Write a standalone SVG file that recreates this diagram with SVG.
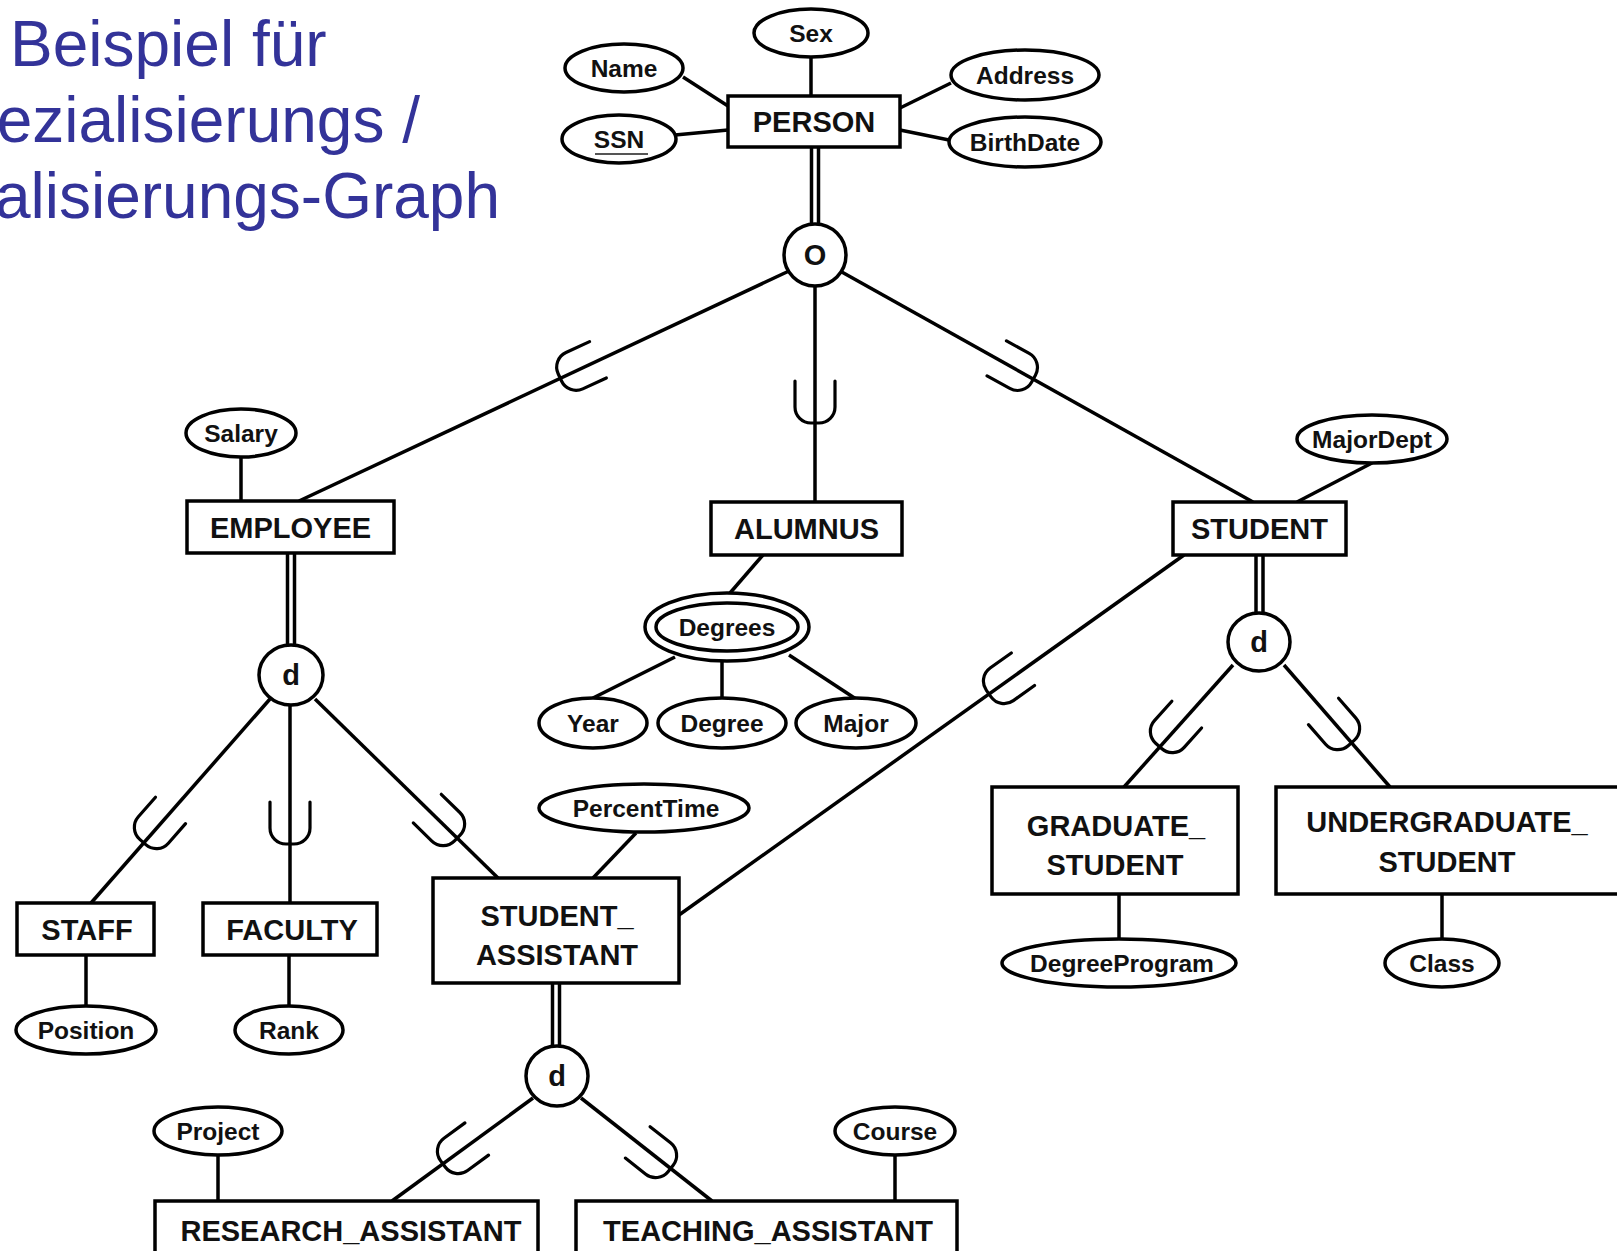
<svg xmlns="http://www.w3.org/2000/svg" width="1617" height="1251" viewBox="0 0 1617 1251">
<defs>
<style>
.bg{fill:#ffffff}
.title{font-family:"Liberation Sans",Arial,sans-serif;font-size:64px;fill:#333399}
.ent rect{fill:#ffffff;stroke:#000;stroke-width:3.5}
.ent text{font-family:"Liberation Sans",Arial,sans-serif;font-weight:bold;font-size:29px;fill:#111;text-anchor:middle}
.att ellipse{fill:#ffffff;stroke:#000;stroke-width:3.5}
.att text{font-family:"Liberation Sans",Arial,sans-serif;font-weight:bold;font-size:24.5px;fill:#111;text-anchor:middle}
.circ ellipse{fill:#ffffff;stroke:#000;stroke-width:3.5}
.circ text{font-family:"Liberation Sans",Arial,sans-serif;font-weight:bold;font-size:29px;fill:#111;text-anchor:middle}
.conn line{stroke:#000;stroke-width:3.5;fill:none}
.sub{stroke:#000;stroke-width:3.2;fill:none;stroke-linecap:round}
</style>
<path id="subset" d="M-20,-22 V4 A16,16 0 0 0 -4,20 H4 A16,16 0 0 0 20,4 V-22"/>
</defs>
<rect class="bg" x="0" y="0" width="1617" height="1251"/>

<g id="title">
<text class="title" x="10" y="66">Beispiel für</text>
<text class="title" x="420" y="142" text-anchor="end">ezialisierungs /</text>
<text class="title" x="500" y="218" text-anchor="end">alisierungs-Graph</text>
</g>

<g id="connectors" class="conn">
<line x1="811" y1="57" x2="811" y2="96"/>
<line x1="683" y1="77" x2="728" y2="106"/>
<line x1="675" y1="135" x2="728" y2="130"/>
<line x1="951" y1="83" x2="900" y2="108"/>
<line x1="949" y1="140" x2="900" y2="130"/>
<line x1="811.5" y1="147" x2="811.5" y2="226"/>
<line x1="818.5" y1="147" x2="818.5" y2="226"/>
<line x1="789" y1="271" x2="299" y2="501"/>
<line x1="815" y1="286" x2="815" y2="502"/>
<line x1="840" y1="271" x2="1253" y2="502"/>
<line x1="241" y1="457" x2="241" y2="501"/>
<line x1="287.5" y1="553" x2="287.5" y2="647"/>
<line x1="294.5" y1="553" x2="294.5" y2="647"/>
<line x1="270" y1="699" x2="91" y2="903"/>
<line x1="290" y1="705" x2="290" y2="903"/>
<line x1="315" y1="699" x2="498" y2="878"/>
<line x1="86" y1="955" x2="86" y2="1006"/>
<line x1="289" y1="955" x2="289" y2="1006"/>
<line x1="763" y1="555" x2="730" y2="593"/>
<line x1="675" y1="657" x2="593" y2="698"/>
<line x1="722" y1="661" x2="722" y2="698"/>
<line x1="789" y1="655" x2="856" y2="699"/>
<line x1="1372" y1="463" x2="1297" y2="502"/>
<line x1="1256" y1="555" x2="1256" y2="615"/>
<line x1="1263" y1="555" x2="1263" y2="615"/>
<line x1="1233" y1="665" x2="1124" y2="787"/>
<line x1="1284" y1="665" x2="1390" y2="787"/>
<line x1="1184" y1="555" x2="679" y2="915"/>
<line x1="1119" y1="894" x2="1119" y2="939"/>
<line x1="1442" y1="894" x2="1442" y2="939"/>
<line x1="636" y1="833" x2="593" y2="878"/>
<line x1="552.5" y1="983" x2="552.5" y2="1049"/>
<line x1="559.5" y1="983" x2="559.5" y2="1049"/>
<line x1="533" y1="1098" x2="392" y2="1201"/>
<line x1="581" y1="1098" x2="712" y2="1201"/>
<line x1="218" y1="1155" x2="218" y2="1201"/>
<line x1="895" y1="1155" x2="895" y2="1201"/>
<use href="#subset" class="sub" transform="translate(578,369) rotate(65.2)"/>
<use href="#subset" class="sub" transform="translate(815,403)"/>
<use href="#subset" class="sub" transform="translate(1016,369) rotate(-61)"/>
<use href="#subset" class="sub" transform="translate(156,827) rotate(41.3)"/>
<use href="#subset" class="sub" transform="translate(290,824)"/>
<use href="#subset" class="sub" transform="translate(443,824) rotate(-45.6)"/>
<use href="#subset" class="sub" transform="translate(1172,731) rotate(42)"/>
<use href="#subset" class="sub" transform="translate(1338,728) rotate(-41.2)"/>
<use href="#subset" class="sub" transform="translate(1005,682) rotate(54.5)"/>
<use href="#subset" class="sub" transform="translate(459,1152) rotate(53.8)"/>
<use href="#subset" class="sub" transform="translate(655,1156) rotate(-51.8)"/>
</g>

<g id="o-person" class="circ"><ellipse cx="815" cy="255" rx="31" ry="31"/><text x="815" y="265">O</text></g>
<g id="d-employee" class="circ"><ellipse cx="291" cy="675" rx="32" ry="30"/><text x="291" y="685">d</text></g>
<g id="d-student" class="circ"><ellipse cx="1259" cy="642" rx="31" ry="29"/><text x="1259" y="652">d</text></g>
<g id="d-studentassistant" class="circ"><ellipse cx="557" cy="1076" rx="31" ry="30"/><text x="557" y="1086">d</text></g>

<g id="person" class="ent"><rect x="728" y="96" width="172" height="51"/><text x="814" y="132">PERSON</text></g>
<g id="employee" class="ent"><rect x="187" y="501" width="207" height="52"/><text x="290.5" y="537.5">EMPLOYEE</text></g>
<g id="alumnus" class="ent"><rect x="711" y="502" width="191" height="53"/><text x="806.5" y="539">ALUMNUS</text></g>
<g id="student" class="ent"><rect x="1173" y="502" width="173" height="53"/><text x="1259.5" y="539">STUDENT</text></g>
<g id="staff" class="ent"><rect x="17" y="903" width="137" height="52"/><text x="87" y="939.5">STAFF</text></g>
<g id="faculty" class="ent"><rect x="203" y="903" width="174" height="52"/><text x="292" y="939.5">FACULTY</text></g>
<g id="student_assistant" class="ent"><rect x="433" y="878" width="246" height="105"/><text x="557" y="925.5">STUDENT_</text><text x="557" y="964.5">ASSISTANT</text></g>
<g id="graduate_student" class="ent"><rect x="992" y="787" width="246" height="107"/><text x="1116" y="835.5">GRADUATE_</text><text x="1115" y="874.5">STUDENT</text></g>
<g id="undergraduate_student" class="ent"><rect x="1276" y="787" width="364" height="107"/><text x="1447" y="832">UNDERGRADUATE_</text><text x="1447" y="872">STUDENT</text></g>
<g id="research_assistant" class="ent"><rect x="155" y="1201" width="383" height="70"/><text x="351" y="1240.5">RESEARCH_ASSISTANT</text></g>
<g id="teaching_assistant" class="ent"><rect x="576" y="1201" width="381" height="70"/><text x="768" y="1240.5">TEACHING_ASSISTANT</text></g>

<g id="att-sex" class="att"><ellipse cx="811" cy="33" rx="57" ry="24"/><text x="811" y="42">Sex</text></g>
<g id="att-name" class="att"><ellipse cx="624" cy="68" rx="59" ry="24"/><text x="624" y="77">Name</text></g>
<g id="att-ssn" class="att"><ellipse cx="619" cy="139" rx="57" ry="24"/><text x="619" y="148">SSN</text><line x1="595" y1="154" x2="648" y2="154" stroke="#555" stroke-width="2"/></g>
<g id="att-address" class="att"><ellipse cx="1025" cy="75" rx="74" ry="25"/><text x="1025" y="84">Address</text></g>
<g id="att-birthdate" class="att"><ellipse cx="1025" cy="142" rx="76" ry="25"/><text x="1025" y="151">BirthDate</text></g>
<g id="att-salary" class="att"><ellipse cx="241" cy="433" rx="55" ry="24"/><text x="241" y="442">Salary</text></g>
<g id="att-majordept" class="att"><ellipse cx="1372" cy="439" rx="75" ry="24"/><text x="1372" y="448">MajorDept</text></g>
<g id="att-degrees" class="att"><ellipse cx="727" cy="627" rx="82" ry="34"/><ellipse cx="727" cy="627" rx="71" ry="24"/><text x="727" y="636">Degrees</text></g>
<g id="att-year" class="att"><ellipse cx="593" cy="723" rx="54" ry="25"/><text x="593" y="732">Year</text></g>
<g id="att-degree" class="att"><ellipse cx="722" cy="723" rx="64" ry="25"/><text x="722" y="732">Degree</text></g>
<g id="att-major" class="att"><ellipse cx="856" cy="723" rx="60" ry="25"/><text x="856" y="732">Major</text></g>
<g id="att-percenttime" class="att"><ellipse cx="644" cy="808" rx="105" ry="24"/><text x="646" y="817">PercentTime</text></g>
<g id="att-degreeprogram" class="att"><ellipse cx="1119" cy="963" rx="117" ry="24"/><text x="1122" y="972">DegreeProgram</text></g>
<g id="att-class" class="att"><ellipse cx="1442" cy="963" rx="57" ry="24"/><text x="1442" y="972">Class</text></g>
<g id="att-position" class="att"><ellipse cx="86" cy="1030" rx="70" ry="24"/><text x="86" y="1039">Position</text></g>
<g id="att-rank" class="att"><ellipse cx="289" cy="1030" rx="54" ry="24"/><text x="289" y="1039">Rank</text></g>
<g id="att-project" class="att"><ellipse cx="218" cy="1131" rx="64" ry="24"/><text x="218" y="1140">Project</text></g>
<g id="att-course" class="att"><ellipse cx="895" cy="1131" rx="60" ry="24"/><text x="895" y="1140">Course</text></g>
</svg>
